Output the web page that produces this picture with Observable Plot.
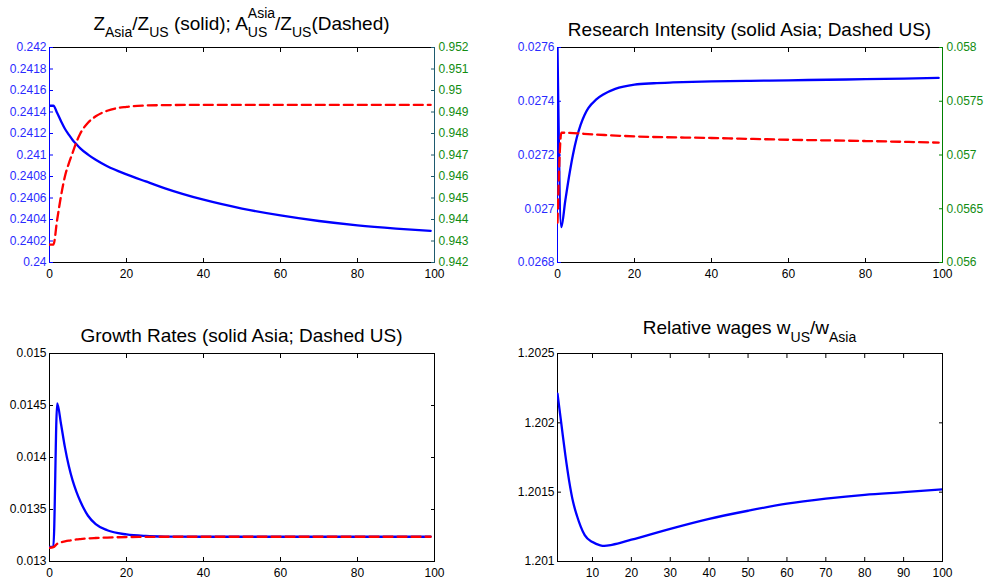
<!DOCTYPE html>
<html>
<head>
<meta charset="utf-8">
<script src="https://cdn.jsdelivr.net/npm/d3@7"></script>
<script src="https://cdn.jsdelivr.net/npm/@observablehq/plot@0.6"></script>
<style>
  html, body { margin: 0; padding: 0; background: #fff; }
  #fig { position: relative; width: 986px; height: 583px; overflow: hidden; background: #fff; }
  #fig svg { position: absolute; }
  #fig svg.pl text { font-size: 12px !important; font-family: 'Liberation Sans', Arial, Helvetica, sans-serif !important; font-variant: normal !important; }
</style>
</head>
<body>
<div id="fig"></div>
<script>
// ---------------- DATA ----------------
// Panel 1: Z_Asia/Z_US (solid, left axis) and A^Asia_US/Z_US (dashed, right axis)
const xP1 = [0,1,2,3,4,5,6,7,8,10,12,15,20,25,30,40,50,60,70,80,90,99];
const zAsiaOverZUS = [0.241458,0.241458,0.24139,0.241314,0.241244,0.24119,0.24114,0.2411,0.241062,0.241004,0.240956,0.240896,0.24082,0.240754,0.24069,0.240584,0.240502,0.240438,0.240386,0.240346,0.240316,0.240294];
const aAsiaUSOverZUS = [0.94283,0.94283,0.9440,0.9451,0.9460,0.9466,0.9471,0.9476,0.9480,0.94850,0.94880,0.94906,0.94924,0.94930,0.94932,0.94933,0.94933,0.94933,0.94933,0.94933,0.94933,0.94933];
const p1LeftTicks = [0.24,0.2402,0.2404,0.2406,0.2408,0.241,0.2412,0.2414,0.2416,0.2418,0.242];
const p1RightTicks = [0.942,0.943,0.944,0.945,0.946,0.947,0.948,0.949,0.95,0.951,0.952];

// Panel 2: Research intensity (solid Asia, left axis; dashed US, right axis)
const xP2 = [0,1,2,3,4,5,6,7,8,10,12,15,20,25,30,40,50,60,70,80,90,99];
const researchAsia = [0.02760,0.026932,0.027028,0.02712,0.0272,0.027264,0.027312,0.027348,0.027374,0.027406,0.027426,0.027446,0.027462,0.027467,0.02747,0.027474,0.027476,0.027478,0.02748,0.027482,0.027484,0.027487];
const xP2US = [0,1,10,20,40,60,80,99];
const researchUS = [0.05637,0.057207,0.05719,0.057173,0.057158,0.057142,0.05713,0.057115];
const p2LeftTicks = [0.0268,0.027,0.0272,0.0274,0.0276];
const p2RightTicks = [0.056,0.0565,0.057,0.0575,0.058];

// Panel 3: Growth rates (solid Asia; dashed US)
const xP3 = [0,1,2,3,4,5,6,7,8,10,12,15,20,25,30,40,50,60,70,80,90,99];
const growthAsia = [0.01314,0.01314,0.01452,0.01432,0.01410,0.01392,0.01378,0.01367,0.01358,0.01344,0.01336,0.01330,0.01326,0.013245,0.01324,0.013238,0.013238,0.013238,0.013238,0.013238,0.013238,0.013238];
const growthUS = [0.013132,0.013138,0.01317,0.013185,0.013193,0.0132,0.013206,0.013212,0.013216,0.013222,0.013226,0.01323,0.013235,0.013237,0.013238,0.013238,0.013238,0.013238,0.013238,0.013238,0.013238,0.013238];
const p3Ticks = [0.013,0.0135,0.014,0.0145,0.015];

// Panel 4: Relative wages w_US/w_Asia
const xP4 = [1,2,3,4,5,6,7,8,10,12,13,15,20,30,40,50,60,70,80,90,100];
const wUSOverWAsia = [1.20221,1.20199,1.20177,1.20158,1.20143,1.20133,1.20125,1.20119,1.20114,1.201117,1.201113,1.20112,1.201157,1.201236,1.201308,1.201366,1.201417,1.201453,1.201481,1.2015,1.20152];
const p4Ticks = [1.201,1.2015,1.202,1.2025];

const xTicks100 = [0,20,40,60,80,100];
const xTicks10 = [10,20,30,40,50,60,70,80,90,100];

// ---------------- STYLE ----------------
const FONT = "'Liberation Sans', Arial, Helvetica, sans-serif";
const BLUE = "#0000ff", RED = "#ff0000";
const AXBLUE = "#0000ff", TXTBLUE = "#2a2aff";
const GREEN = "#008000", TXTGREEN = "#128c12";
const PW = 385, ML = 50, MR = 55, MT = 8, MB = 28;
const fig = document.getElementById("fig");

const rows = (xs, ys) => xs.map((x, i) => ({x, v: ys[i]}));
const fmt = d => String(d);

function xAxes(ticks) {
  return [
    Plot.axisX({anchor: "bottom", ticks, tickSize: 0, tickPadding: 7, tickFormat: fmt, label: null, color: "#000", fontSize: 12}),
    Plot.axisX({anchor: "bottom", ticks, tickSize: -4, tickFormat: () => "", label: null, color: "#000"}),
    Plot.axisX({anchor: "top", ticks, tickSize: -4, tickFormat: () => "", label: null, color: "#000"})
  ];
}
function yAxes(anchor, ticks, tickColor, textColor, labels = true) {
  const out = [Plot.axisY({anchor, ticks, tickSize: -4, tickFormat: () => "", label: null, color: tickColor})];
  if (labels) out.push(Plot.axisY({anchor, ticks, tickSize: 0, tickPadding: anchor === "left" ? 3 : 4, tickFormat: fmt, label: null, color: textColor, fontSize: 12}));
  return out;
}
function addPlot(left, top, h, xDomain, yDomain, marks, overlay = false) {
  const svg = Plot.plot({
    width: PW + ML + MR, height: h + MT + MB,
    marginLeft: ML, marginRight: MR, marginTop: MT, marginBottom: MB,
    style: {background: "transparent", fontFamily: FONT, fontSize: "12px", overflow: "visible"},
    x: overlay ? {domain: xDomain, axis: null} : {domain: xDomain},
    y: {domain: yDomain},
    marks
  });
  svg.classList.add("pl");
  svg.style.left = (left - ML) + "px";
  svg.style.top = (top - MT) + "px";
  fig.append(svg);
}

const lineOpts = {x: "x", y: "v", strokeWidth: 2.3, curve: "monotone-x", clip: true};

// ---- Panel 1 ----
addPlot(49, 47, 215, [0, 100], [0.24, 0.242], [
  Plot.frame({stroke: "#000"}),
  ...xAxes(xTicks100),
  ...yAxes("left", p1LeftTicks, AXBLUE, TXTBLUE),
  Plot.ruleX([0], {stroke: AXBLUE}),
  Plot.line(rows(xP1, zAsiaOverZUS), {...lineOpts, stroke: BLUE})
]);
addPlot(49, 47, 215, [0, 100], [0.942, 0.952], [
  ...yAxes("right", p1RightTicks, "#1e5a6e", TXTGREEN),
  Plot.ruleX([100], {stroke: "#1e5a6e"}),
  Plot.line(rows(xP1, aAsiaUSOverZUS), {...lineOpts, stroke: RED, strokeDasharray: "9,5"})
], true);

// ---- Panel 2 ----
addPlot(557, 47, 215, [0, 100], [0.0268, 0.0276], [
  Plot.frame({stroke: "#000"}),
  ...xAxes(xTicks100),
  ...yAxes("left", p2LeftTicks, AXBLUE, TXTBLUE),
  Plot.ruleX([0], {stroke: AXBLUE}),
  Plot.line(rows(xP2, researchAsia), {...lineOpts, stroke: BLUE})
]);
addPlot(557, 47, 215, [0, 100], [0.056, 0.058], [
  ...yAxes("right", p2RightTicks, GREEN, TXTGREEN),
  Plot.ruleX([100], {stroke: GREEN}),
  Plot.line(rows(xP2US, researchUS), {...lineOpts, stroke: RED, strokeDasharray: "9,5"})
], true);

// ---- Panel 3 ----
addPlot(49, 353, 208, [0, 100], [0.013, 0.015], [
  Plot.frame({stroke: "#000"}),
  ...xAxes(xTicks100),
  ...yAxes("left", p3Ticks, "#000", "#000"),
  ...yAxes("right", p3Ticks, "#000", "#000", false),
  Plot.line(rows(xP3, growthAsia), {...lineOpts, stroke: BLUE}),
  Plot.line(rows(xP3, growthUS), {...lineOpts, stroke: RED, strokeDasharray: "9,5"})
]);

// ---- Panel 4 ----
addPlot(557, 353, 208, [1, 100], [1.201, 1.2025], [
  Plot.frame({stroke: "#000"}),
  ...xAxes(xTicks10),
  ...yAxes("left", p4Ticks, "#000", "#000"),
  ...yAxes("right", p4Ticks, "#000", "#000", false),
  Plot.line(rows(xP4, wUSOverWAsia), {...lineOpts, stroke: BLUE})
]);

// ---------------- TITLES ----------------
const ctx = document.createElement("canvas").getContext("2d");
ctx.font = "14px 'Liberation Sans'";
const wAsia = ctx.measureText("Asia").width, wUS = ctx.measureText("US").width;
const NS = "http://www.w3.org/2000/svg";
const tsvg = document.createElementNS(NS, "svg");
tsvg.setAttribute("width", 986); tsvg.setAttribute("height", 583);
tsvg.style.left = "0px"; tsvg.style.top = "0px";
tsvg.style.fontFamily = FONT;
fig.append(tsvg);

function title(cx, y, parts) {
  const t = document.createElementNS(NS, "text");
  t.setAttribute("x", cx); t.setAttribute("y", y);
  t.setAttribute("text-anchor", "middle");
  t.setAttribute("font-size", 19);
  t.setAttribute("fill", "#000");
  for (const p of parts) {
    const s = document.createElementNS(NS, "tspan");
    s.textContent = p.t;
    if (p.size) s.setAttribute("font-size", p.size);
    if (p.dy) s.setAttribute("dy", p.dy);
    if (p.dx) s.setAttribute("dx", p.dx);
    t.append(s);
  }
  tsvg.append(t);
}
const SUB = 7;
title(241.5, 30, [
  {t: "Z"}, {t: "Asia", size: 14, dy: SUB}, {t: "/Z", dy: -SUB}, {t: "US", size: 14, dy: SUB},
  {t: " (solid); A", dy: -SUB},
  {t: "Asia", size: 14, dy: -12},
  {t: "US", size: 14, dy: 12 + SUB, dx: -wAsia},
  {t: "/Z", dy: -SUB, dx: wAsia - wUS},
  {t: "US", size: 14, dy: SUB},
  {t: "(Dashed)", dy: -SUB}
]);
title(749.5, 36, [{t: "Research Intensity (solid Asia; Dashed US)"}]);
title(241.5, 342, [{t: "Growth Rates (solid Asia; Dashed US)"}]);
title(749.5, 334, [
  {t: "Relative wages w"}, {t: "US", size: 14, dy: 8}, {t: "/w", dy: -8}, {t: "Asia", size: 14, dy: 8}
]);
</script>
</body>
</html>
